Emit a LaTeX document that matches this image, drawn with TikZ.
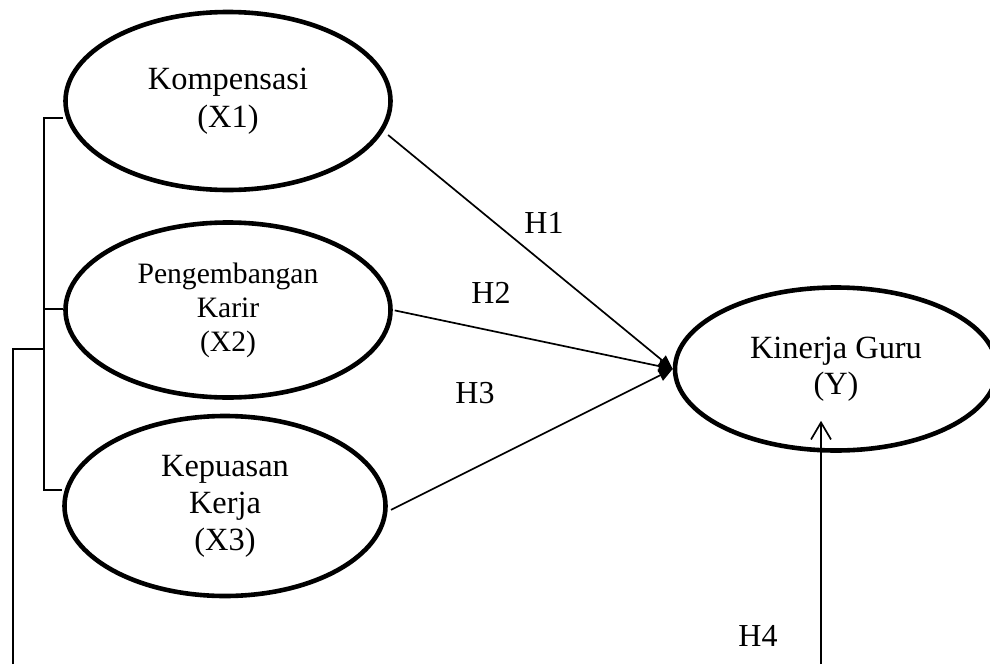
\documentclass[tikz,border=0pt]{standalone}
\usepackage{fontspec}
\setmainfont{Liberation Serif}
\usetikzlibrary{shapes.geometric,arrows.meta,calc}

\begin{document}
\begin{tikzpicture}[x=0.5pt, y=-0.5pt,
    var/.style={ellipse, draw, line width=2.3pt, align=center, inner sep=0pt, font=\fontsize{16.2}{19}\selectfont},
    hyp/.style={inner sep=0pt, font=\fontsize{16}{18}\selectfont},
    effect/.style={line width=0.85pt, -{Triangle[length=7pt,width=6pt]}},
    link/.style={line width=0.85pt}
]
\useasboundingbox (0,0) rectangle (990,664);

% Nodes
\node[var, minimum width=162.5pt, minimum height=89pt] (X1) at (228,101) {Kompensasi\\(X1)};
\node[var, minimum width=162.5pt, minimum height=87.5pt, font=\fontsize{14.8}{17}\selectfont] (X2) at (228,310) {Pengembangan\\Karir\\(X2)};
\node[var, minimum width=160.5pt, minimum height=90pt, font=\fontsize{16.2}{18.5}\selectfont] (X3) at (225,506) {Kepuasan\\Kerja\\(X3)};
\node[var, minimum width=161pt, minimum height=81.5pt, font=\fontsize{16.2}{18}\selectfont] (Y) at (836,369) {Kinerja Guru\\(Y)};

% Labels
\node[hyp] (h1) at (544,223) {H1};
\node[hyp] (h2) at (491,293) {H2};
\node[hyp] (h3) at (475,393) {H3};
\node[hyp] (h4) at (758,636) {H4};

% Bracket
\coordinate (b1) at (44,118);
\coordinate (b2) at (44,309);
\coordinate (b3) at (44,490);
\coordinate (c1) at (13,349);
\coordinate (c2) at (13,664);
\draw[link] (b1 -| X1.west) -- (b1) -- (b3) -- (b3 -| X3.west);
\draw[link] (b2) -- (b2 -| X2.west);
\draw[link] (c2) -- (c1) -- (c1 -| b1);

% Arrows
\draw[effect, shorten <=3pt] (X1.-11) -- (Y.west);
\draw[effect, shorten <=1pt] (X2.east) -- (Y.west);
\draw[effect, shorten <=2pt] (X3.-2) -- (Y.west);
\coordinate (h4foot) at (821,664);
\draw[link, -{Straight Barb[length=8.5pt,width=10pt]}] (h4foot) -- ($(h4foot |- Y.south)+(0,-32)$);

\end{tikzpicture}
\end{document}
